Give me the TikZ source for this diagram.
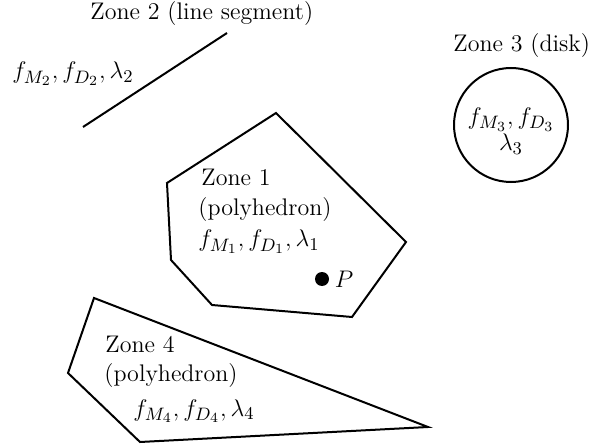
\documentclass[tikz,border=0pt]{standalone}
\usetikzlibrary{calc}
\DeclareMathSizes{12}{12}{9}{7}
\begin{document}
\begin{tikzpicture}[x=0.5pt,y=-0.5pt,
  every node/.style={font=\fontsize{12}{14.5}\selectfont},
  zoneline/.style={line width=1pt, line join=miter},
  lbl/.style={inner sep=0pt, anchor=base west},
  dotmark/.style={circle, fill=black, inner sep=0pt, minimum size=7pt}]
\useasboundingbox (0,0) rectangle (595,444);
% Zone 2
\coordinate (l2a) at (83,127);
\coordinate (l2b) at (227,33);
\draw[zoneline] (l2a) -- (l2b);
\node[lbl] (t2) at (90,20) {Zone 2 (line segment)};
\node[lbl] (f2) at (12,79) {$f_{M_2}, f_{D_2}, \lambda_2$};
% Zone 3
\node[draw, circle, line width=1pt, minimum size=57pt, inner sep=0pt] (c3) at (511,125) {};
\node[lbl] (t3) at (453,52) {Zone 3 (disk)};
\node[align=center, inner sep=0pt, font=\fontsize{12}{13}\selectfont] (f3) at (511,131)
  {$f_{M_3}, f_{D_3}$\\ $\lambda_3$};
% Zone 1
\coordinate (a1) at (276,113);
\coordinate (b1) at (406,242);
\coordinate (c1) at (352,317);
\coordinate (d1) at (212,305);
\coordinate (e1) at (171,260);
\coordinate (g1) at (167,183);
\draw[zoneline] (a1) -- (b1) -- (c1) -- (d1) -- (e1) -- (g1) -- cycle;
\node[lbl] (t1a) at (201,186) {Zone 1};
\node[lbl] (t1b) at (198,216) {(polyhedron)};
\node[lbl] (t1c) at (198,247) {$f_{M_1}, f_{D_1}, \lambda_1$};
\node[dotmark] (p) at (322,279) {};
\node[anchor=west, inner sep=2.5pt] (pl) at (p.east) {$P$};
% Zone 4
\coordinate (a4) at (94,298);
\coordinate (b4) at (428,427);
\coordinate (c4) at (140,442);
\coordinate (d4) at (68,373);
\draw[zoneline] (a4) -- (b4) -- (c4) -- (d4) -- cycle;
\node[lbl] (t4a) at (105,352) {Zone 4};
\node[lbl] (t4b) at (104,381) {(polyhedron)};
\node[lbl] (t4c) at (133,416) {$f_{M_4}, f_{D_4}, \lambda_4$};
\end{tikzpicture}
\end{document}
